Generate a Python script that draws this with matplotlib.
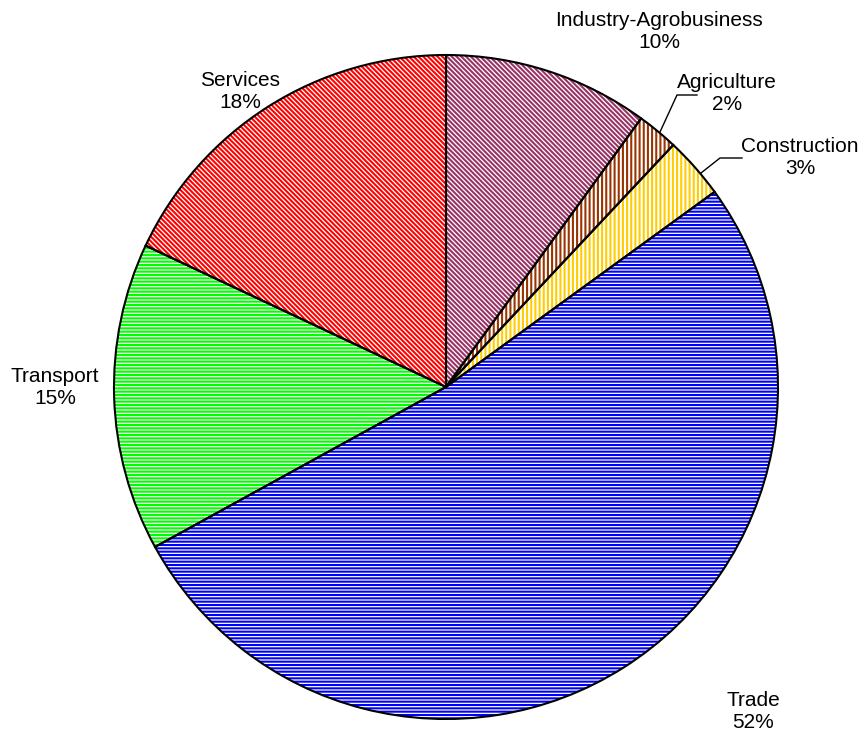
import matplotlib
matplotlib.use("Agg")
import matplotlib.pyplot as plt

plt.rcParams["font.family"] = ["Liberation Sans", "DejaVu Sans"]
plt.rcParams["hatch.linewidth"] = 1.5

# sector shares (%), clockwise from 12 o'clock
SECTORS = ["Industry-Agrobusiness", "Agriculture", "Construction",
           "Trade", "Transport", "Services"]
SHARES = [10, 2, 3, 52, 15, 18]
COLORS = ["#993366", "#993300", "#FFCC00", "#0000FF", "#00FF00", "#FF0000"]
HATCHES = ["\\" * 7, "||||", "||||", "-----", "-----", "\\" * 7]

# label anchor (x, y in pixel-like coords, y from top) and optional leader line
LABEL_POS = [(659, 31), (727, 94), (800, 157), (753, 712), (55, 387), (240, 92)]
LEADERS = {1: [(660, 132), (677, 95), (697, 95)],
           2: [(701, 173), (720, 158), (742, 158)]}

W, H = 867, 742
CX, CY, R = 446, 387, 332

fig = plt.figure(figsize=(W / 100, H / 100), dpi=100)
ax = fig.add_axes([0, 0, 1, 1])

# hatched fill: hatch colour follows edgecolor, so draw fills without edges
wedges, _ = ax.pie(SHARES, startangle=90, counterclock=False,
                   center=(CX, H - CY), radius=R, frame=True,
                   wedgeprops=dict(facecolor="white", linewidth=0))
for w, c, h in zip(wedges, COLORS, HATCHES):
    w.set_edgecolor(c)
    w.set_hatch(h)

# black outlines on top
ax.pie(SHARES, startangle=90, counterclock=False,
       center=(CX, H - CY), radius=R, frame=True,
       wedgeprops=dict(fill=False, edgecolor="black", linewidth=1.5))
ax.set_xlim(0, W)
ax.set_ylim(0, H)
ax.set_aspect("equal")
ax.axis("off")

for i, (name, val) in enumerate(zip(SECTORS, SHARES)):
    x, y = LABEL_POS[i]
    ax.text(x, H - y, f"{name}\n{val}%", ha="center", va="center",
            fontsize=15, linespacing=1.2)
    if i in LEADERS:
        xs = [p[0] for p in LEADERS[i]]
        ys = [H - p[1] for p in LEADERS[i]]
        ax.plot(xs, ys, color="black", linewidth=1)

fig.savefig("out.png", dpi=100, facecolor="white")
